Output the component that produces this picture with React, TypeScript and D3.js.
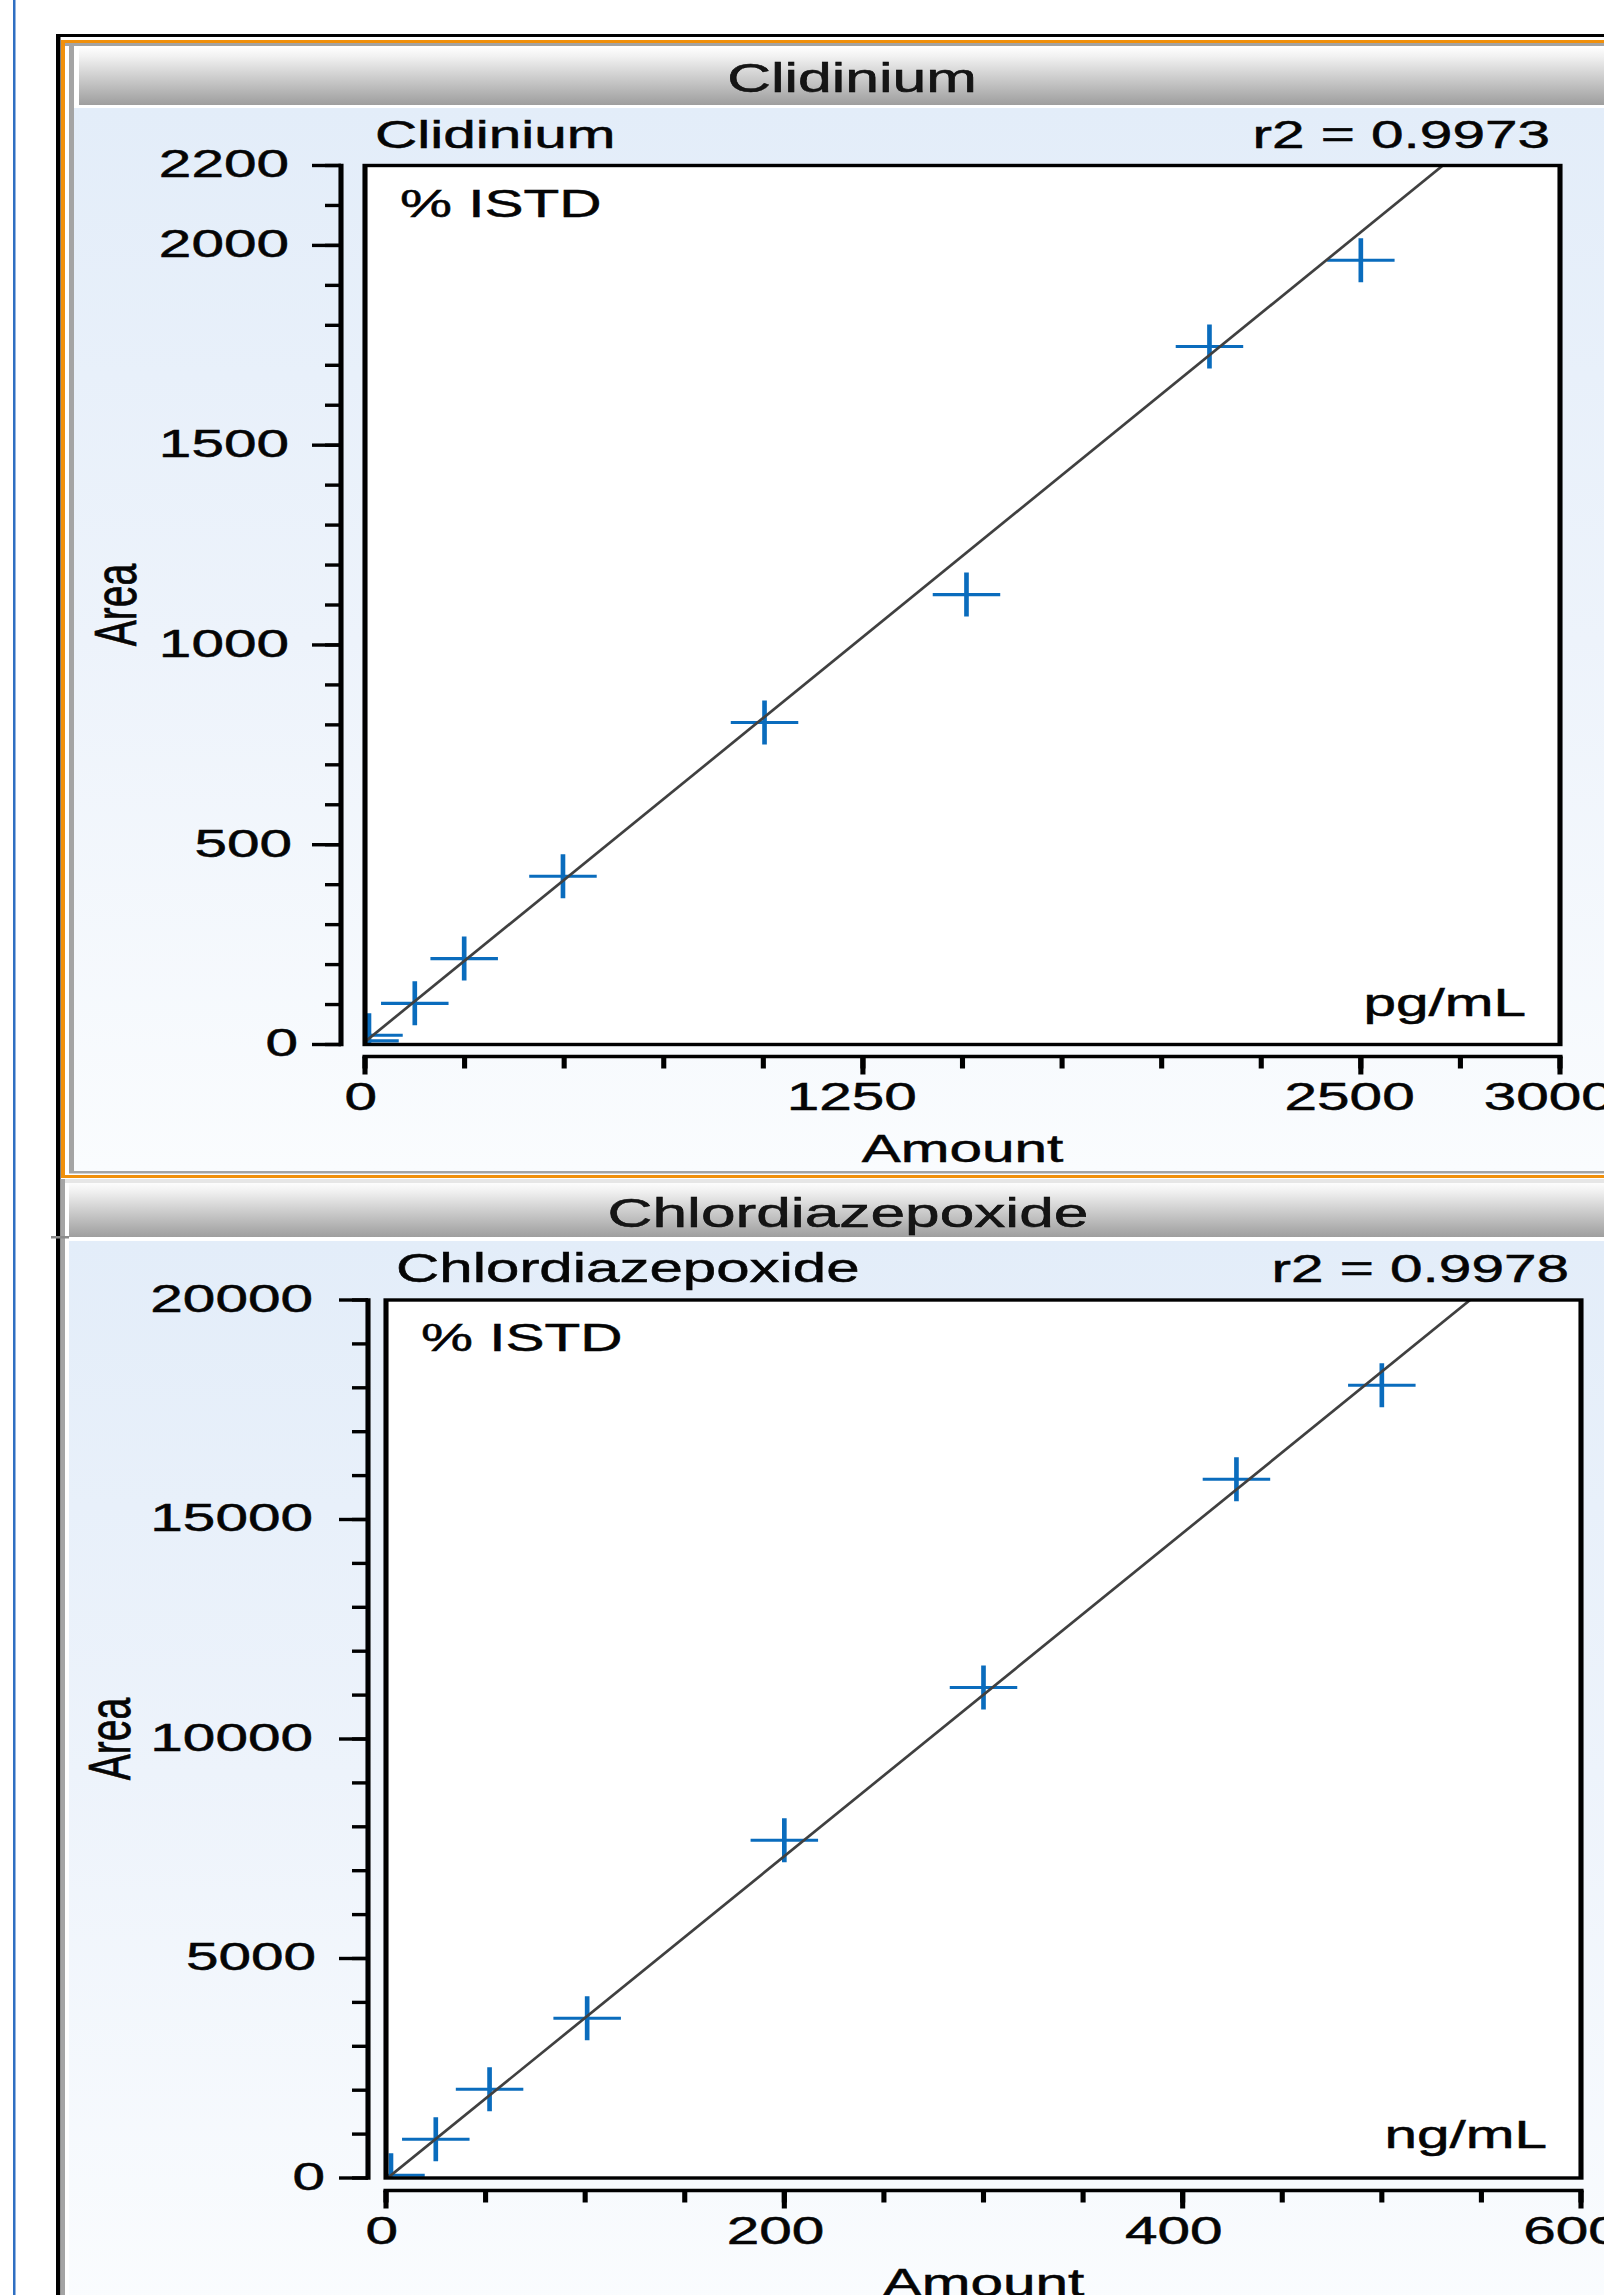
import React from "react";
import * as d3 from "d3";

const W = 1604;
const H = 2295;
// the screenshot is stretched sideways: everything in the chart group is drawn
// in "narrow" units and widened by SX
const SX = 1.5;
const FONT = "'Liberation Sans', Arial, Helvetica, sans-serif";

// Clidinium calibration
const clidAmount = [0, 10, 125, 249, 497, 1003, 1510, 2120, 2500];
const clidArea = [9, 23, 103, 215, 421, 806, 1126, 1747, 1963];
const clidFit = { intercept: 7, slope: 0.8105 };
const clidXTicks = [0, 1250, 2500, 3000];
const clidYTicks = [0, 500, 1000, 1500, 2000, 2200];

// Chlordiazepoxide calibration
const chlorAmount = [2.5, 25, 52, 101, 200, 300, 427, 500];
const chlorArea = [61, 884, 2020, 3638, 7692, 11173, 15916, 18057];
const chlorFit = { intercept: -30, slope: 36.8 };
const chlorXTicks = [0, 200, 400, 600];
const chlorYTicks = [0, 5000, 10000, 15000, 20000];

const panels = [
  {
    id: "clid", name: "Clidinium", r2: "0.9973", unit: "pg/mL",
    amount: clidAmount, area: clidArea, fit: clidFit,
    xTicks: clidXTicks, yTicks: clidYTicks, xStep: 250, yStep: 100,
    box: { left: 365, right: 1560, top: 165.5, bottom: 1044.5, yAxis: 341, xAxis: 1056.5,
      areaX: 136, titleY: 92, titleX: 852, r2Pad: 10, unitY: 1016, nameFs: 39, titleFs: 40.5 },
  },
  {
    id: "chlor", name: "Chlordiazepoxide", r2: "0.9978", unit: "ng/mL",
    amount: chlorAmount, area: chlorArea, fit: chlorFit,
    xTicks: chlorXTicks, yTicks: chlorYTicks, xStep: 50, yStep: 1000,
    box: { left: 386, right: 1581, top: 1300, bottom: 2178, yAxis: 368, xAxis: 2190.5,
      areaX: 130, titleY: 1227, titleX: 848, r2Pad: 12, unitY: 2148, nameFs: 40, titleFs: 41.5 },
  },
];

const X = (v: number) => v / SX;
const LW = 3.4;

function CalPanel({ p }: { p: any }) {
  const b = p.box;
  const xMax = p.xTicks[p.xTicks.length - 1];
  const yMax = p.yTicks[p.yTicks.length - 1];
  const x = d3.scaleLinear().domain([0, xMax]).range([X(b.left), X(b.right)]);
  const y = d3.scaleLinear().domain([0, yMax]).range([b.bottom, b.top]);
  const xMinor = d3.range(0, xMax + 1e-6, p.xStep);
  const yMinor = d3.range(0, yMax + 1e-6, p.yStep);
  const ax = X(b.yAxis);
  const pts = p.amount.map((a: number, i: number) => [x(a), y(p.area[i])]);
  const fitLine = d3.line()([0, xMax].map(a => [x(a), y(p.fit.intercept + p.fit.slope * a)]) as any);
  const txt = { fontFamily: FONT, fontSize: 39, fill: "#050505", stroke: "#050505", strokeWidth: 0.5 } as any;
  const clip = `clip-${p.id}`;

  return (
    <g>
      <defs>
        <clipPath id={clip}>
          <rect x={x(0)} y={b.top} width={x(xMax) - x(0)} height={b.bottom - b.top} />
        </clipPath>
      </defs>

      {/* title bar text */}
      <text x={X(b.titleX)} y={b.titleY} textAnchor="middle" {...txt} fontSize={b.titleFs} fill="#151515">{p.name}</text>

      {/* header line */}
      <text x={X(b.left + 10)} y={b.top - 17.5} {...txt} fontSize={b.nameFs}>{p.name}</text>
      <text x={X(b.right - b.r2Pad)} y={b.top - 17.5} textAnchor="end" {...txt}>{`r2 = ${p.r2}`}</text>

      {/* plot box */}
      <rect x={x(0)} y={b.top} width={x(xMax) - x(0)} height={b.bottom - b.top} fill="#fff" />
      <g clipPath={`url(#${clip})`}>
        {pts.map(([cx, cy]: number[], i: number) => (
          <path key={i} d={`M${cx - 22.5},${cy}h45M${cx},${cy - 22}v44`} stroke="#0a6cbd" strokeWidth={3.1} fill="none" />
        ))}
        <path d={fitLine || ""} stroke="#404040" strokeWidth={2.2} fill="none" />
      </g>
      <rect x={x(0)} y={b.top} width={x(xMax) - x(0)} height={b.bottom - b.top} fill="none" stroke="#000" strokeWidth={LW} />
      <text x={X(b.left + 35)} y={b.top + 51.5} {...txt}>% ISTD</text>
      <text x={X(b.right - 34)} y={b.unitY} textAnchor="end" {...txt}>{p.unit}</text>

      {/* y axis */}
      <line x1={ax} x2={ax} y1={b.top - LW / 2} y2={b.bottom + LW / 2} stroke="#000" strokeWidth={LW} />
      {yMinor.map((v: number) => (
        <line key={"ym" + v} x1={ax - X(16)} x2={ax} y1={y(v)} y2={y(v)} stroke="#000" strokeWidth={LW} />
      ))}
      {p.yTicks.map((v: number) => {
        const s = String(v);
        return (
          <g key={"y" + v}>
            <line x1={ax - X(29)} x2={ax} y1={y(v)} y2={y(v)} stroke="#000" strokeWidth={LW} />
            <text x={X(b.yAxis - 40 - 3 * s.length)} y={y(v) + 12} textAnchor="end" {...txt}>{s}</text>
          </g>
        );
      })}
      <text transform={`translate(${X(b.areaX)},${(b.top + b.bottom) / 2}) rotate(-90)`} textAnchor="middle" {...txt}>Area</text>

      {/* x axis */}
      <line x1={x(0) - LW / 2} x2={x(xMax) + LW / 2} y1={b.xAxis} y2={b.xAxis} stroke="#000" strokeWidth={LW} />
      {xMinor.map((v: number) => (
        <line key={"xm" + v} x1={x(v)} x2={x(v)} y1={b.xAxis} y2={b.xAxis + 12} stroke="#000" strokeWidth={LW} />
      ))}
      {p.xTicks.map((v: number) => {
        const s = String(v);
        return (
          <g key={"x" + v}>
            <line x1={x(v)} x2={x(v)} y1={b.xAxis} y2={b.xAxis + 18} stroke="#000" strokeWidth={LW} />
            <text x={x(v) - X(2 + 2.3 * s.length)} y={b.xAxis + 53.5} textAnchor="middle" {...txt}>{s}</text>
          </g>
        );
      })}
      <text x={X((b.left + b.right) / 2)} y={b.xAxis + 105.5} textAnchor="middle" {...txt}>Amount</text>
    </g>
  );
}

export default function App() {
  return (
    <svg width={W} height={H} style={{ position: "absolute", left: 0, top: 0, background: "#fff", display: "block" }}>
      <defs>
        <linearGradient id="titleGrad" x1="0" x2="0" y1="0" y2="1">
          <stop offset="0%" stopColor="#fdfdfd" />
          <stop offset="15%" stopColor="#f1f1f1" />
          <stop offset="100%" stopColor="#9e9e9e" />
        </linearGradient>
        <linearGradient id="panelGrad" x1="0" x2="0" y1="0" y2="1">
          <stop offset="0%" stopColor="#e3edf9" />
          <stop offset="50%" stopColor="#edf3fb" />
          <stop offset="100%" stopColor="#fafcfe" />
        </linearGradient>
      </defs>
      <rect x={0} y={0} width={W} height={H} fill="#fff" />

      {/* window chrome */}
      <rect x={13} y={0} width={2.5} height={H} fill="#2f6fc2" />
      <rect x={56} y={34} width={4.5} height={H - 34} fill="#000" />
      <rect x={56} y={34} width={W - 56} height={3} fill="#000" />

      {/* top panel (selected) */}
      <rect x={61} y={40} width={W - 61} height={3} fill="#f0900c" />
      <rect x={61} y={40} width={4} height={1138} fill="#f0900c" />
      <rect x={61} y={1175} width={W - 61} height={3} fill="#f0900c" />
      <rect x={65} y={43} width={W - 65} height={3} fill="#a4a4a4" />
      <rect x={69} y={43} width={5} height={1130} fill="#a4a4a4" />
      <rect x={69} y={1171} width={W - 69} height={2.5} fill="#a4a4a4" />
      <rect x={79} y={48} width={W - 79} height={57} fill="url(#titleGrad)" />
      <rect x={74} y={108} width={W - 74} height={1063} fill="url(#panelGrad)" />

      {/* bottom panel */}
      <rect x={65} y={1179} width={W - 65} height={4} fill="#e6e6e6" />
      <rect x={60.5} y={1179} width={4.5} height={H - 1179} fill="#a4a4a4" />
      <rect x={69} y={1183} width={W - 69} height={54} fill="url(#titleGrad)" />
      <rect x={69} y={1241} width={W - 69} height={1063} fill="url(#panelGrad)" />
      <rect x={51} y={1236} width={18} height={2.5} fill="#8a8a8a" />

      <g transform={`scale(${SX},1)`}>
        {panels.map(p => <CalPanel key={p.id} p={p} />)}
      </g>
    </svg>
  );
}
